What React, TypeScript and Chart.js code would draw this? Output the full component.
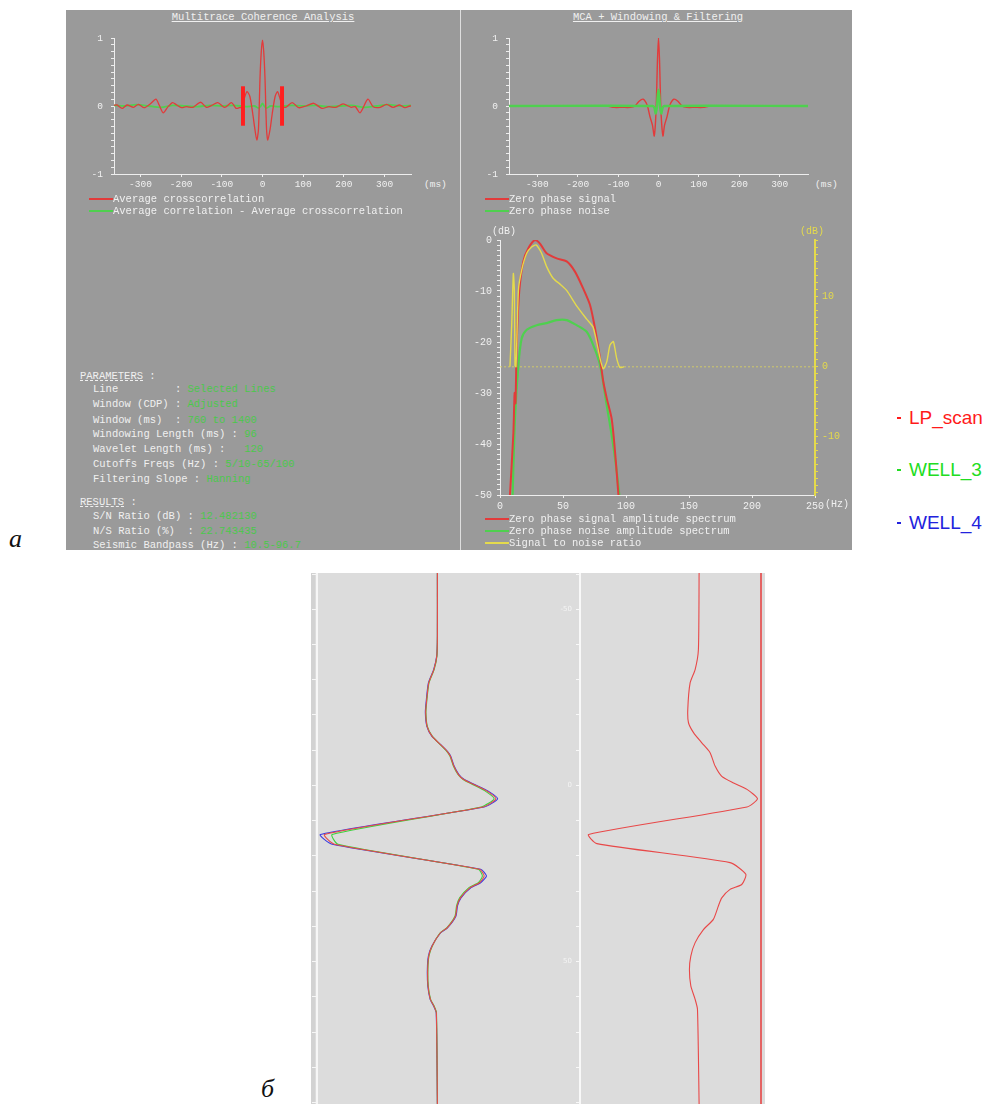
import React, { useEffect, useRef } from 'react';
import { Chart, registerables } from 'chart.js';

Chart.register(...registerables);

// ---------------- DATA ----------------
// Top-left: Multitrace Coherence Analysis (ms, amplitude)
const ccTimes = [
  -365, -358, -345, -333, -317, -305, -291, -276, -262, -254,
  -244, -232, -221, -211, -199, -187, -171, -152, -138, -126,
  -110, -93, -76, -65, -57, -50, -45, -38, -31, -24,
  -19, -14, -10, -6, -3, 0, 3, 6, 10, 13,
  19, 24, 31, 37, 43, 50, 57, 73, 89, 107,
  126, 146, 163, 180, 198, 218, 228, 240, 259, 272,
  289, 305, 321, 337, 350, 362, 365,
];
const ccValues = [
  0.01, 0.015, -0.035, 0.015, -0.02, 0.025, -0.025, 0.03, 0.1, 0.015,
  -0.1, -0.01, 0.05, 0.015, -0.025, -0.01, -0.02, 0.055, -0.02, 0.005,
  0.05, -0.02, 0.05, -0.035, -0.025, -0.02, 0.11, 0.21, 0.14, -0.11,
  -0.33, -0.5, -0.35, 0.43, 0.8, 0.97, 0.8, 0.43, -0.35, -0.5,
  -0.33, -0.11, 0.14, 0.21, 0.11, -0.01, -0.02, 0.05, -0.025, 0.0,
  0.04, -0.035, -0.01, -0.02, 0.03, -0.02, -0.01, -0.1, 0.1, -0.01,
  -0.02, 0.025, -0.02, 0.015, -0.025, 0.0, 0.0,
];
const acTimes = [
  -365, -340, -310, -280, -250, -220, -190, -160, -130, -100,
  -70, -40, -20, -10, -4, 0, 4, 10, 20, 40,
  70, 100, 130, 160, 190, 220, 250, 280, 310, 340, 365,
];
const acValues = [
  0.01, 0.0, 0.02, 0.0, -0.02, 0.01, 0.0, -0.01, 0.01, 0.0,
  0.01, -0.01, 0.0, -0.03, 0.0, 0.04, 0.0, -0.03, 0.0, -0.01,
  0.01, 0.0, 0.01, -0.01, 0.0, 0.01, -0.02, 0.0, 0.02, 0.0, 0.01,
];
const windowMarkTimes = [-48, 48];
const windowMarkSpan = [-0.29, 0.29];

// Top-right: MCA + Windowing & Filtering
const zpTimes = [
  -370, -128, -110, -90, -70, -58, -48, -38, -28, -21,
  -15, -10.5, -6, -2.5, 0, 2.5, 6, 11, 15, 21,
  28, 38, 48, 58, 70, 90, 110, 128, 370,
];
const zpSignal = [
  0, 0, -0.02, -0.02, -0.02, 0.0, 0.07, 0.1, 0.01, -0.16,
  -0.28, -0.44, -0.06, 0.68, 1.0, 0.68, -0.06, -0.44, -0.28, -0.16,
  0.01, 0.1, 0.07, 0.0, -0.02, -0.02, -0.02, 0, 0,
];
const znTimes = [-370, -14, -10, -7, -4, -2, 0, 2, 4, 7, 10, 14, 370];
const znValues = [0, 0, -0.03, -0.11, -0.02, 0.15, 0.24, 0.15, -0.02, -0.11, -0.03, 0, 0];

// Spectrum (Hz, dB)
const sigFreq = [
  7.9, 10.6, 11.6, 12.3, 13.3, 15.3, 18.5, 22.5, 27.8, 31.7,
  37, 45, 52.9, 59.5, 66, 71.4, 75.4, 79.4, 82, 84.7,
  88.6, 91.3, 94,
];
const sigDb = [
  -50, -38, -30, -32, -20, -10, -4.2, -1.6, 0, -0.7,
  -2.6, -3.6, -4.2, -6.2, -9.5, -12.7, -17.3, -23.2, -27.8, -31,
  -35, -41.5, -50,
];
const noiseFreq = [
  10, 11.9, 14.6, 17.2, 21.2, 29.1, 37, 45, 52.9, 60.8,
  68.8, 74, 79.4, 84.7, 88.6, 92, 94.7,
];
const noiseDb = [
  -50, -35, -24.5, -19.3, -17.6, -16.7, -16.3, -15.7, -15.7, -16.7,
  -18, -20.6, -24.5, -32.4, -38.2, -44.1, -50,
];
const snrFreq = [
  7.9, 9.3, 10.6, 11.4, 11.9, 12.7, 14.6, 17.2, 21.2, 25.1,
  28.6, 33, 37, 42.3, 47.6, 52.9, 60.8, 68.8, 74, 79.4,
  82, 84.7, 87.3, 90, 92.6, 95.2, 98.4,
];
const snrDb = [
  0, 6, 13.3, 10.9, 0.2, 0, 10.9, 13.8, 16.2, 17.1,
  17.4, 16.2, 14.3, 12.6, 11.8, 10.9, 8.7, 6.8, 5.6, 1.2,
  -0.3, 0.7, 3.1, 3.6, 1.2, -0.1, 0,
];
const snrZeroFreq = [0, 250];
const snrZeroDb = [0, 0];

// Bottom: well ties (depth sample, normalized amplitude)
const depthL = [
  -60.3, -42.4, -36.7, -32.9, -29.1, -23.5, -20.6, -16.8, -14.0, -11.6,
  -9.7, -8.3, -5.5, -3.1, -1.7, -0.3, 1.6, 3.8, 6.1, 13.9,
  16.7, 23.8, 25.7, 27.6, 29.0, 31.9, 34.2, 37.1, 40.4, 41.8,
  45.6, 48.4, 52.2, 56.9, 60.7, 62.6, 64.5, 90.4,
];
const lpScan = [
  0, 0, -0.005, -0.03, -0.074, -0.094, -0.1, -0.088, -0.046, 0.026,
  0.083, 0.111, 0.14, 0.18, 0.225, 0.31, 0.425, 0.5, 0.39, -0.965,
  -0.88, 0.36, 0.4, 0.36, 0.28, 0.197, 0.168, 0.154, 0.083, 0.026,
  -0.046, -0.074, -0.083, -0.08, -0.06, -0.03, -0.009, 0,
];
const well3 = [
  0, 0, -0.004, -0.028, -0.072, -0.092, -0.098, -0.086, -0.044, 0.024,
  0.08, 0.108, 0.137, 0.176, 0.22, 0.3, 0.41, 0.485, 0.375, -0.9,
  -0.85, 0.35, 0.385, 0.35, 0.27, 0.19, 0.164, 0.15, 0.08, 0.024,
  -0.044, -0.072, -0.081, -0.078, -0.058, -0.028, -0.008, 0,
];
const well4 = [
  0, 0, -0.006, -0.032, -0.077, -0.097, -0.103, -0.09, -0.048, 0.028,
  0.086, 0.114, 0.143, 0.184, 0.23, 0.318, 0.435, 0.515, 0.4, -1.0,
  -0.9, 0.37, 0.42, 0.37, 0.288, 0.202, 0.172, 0.158, 0.086, 0.028,
  -0.048, -0.077, -0.086, -0.082, -0.062, -0.032, -0.01, 0,
];
const depthR = [
  -60.3, -38.6, -32.9, -29.1, -21.6, -17.8, -15.0, -12.1, -9.3, -5.5,
  -2.6, -0.8, 1.1, 3.8, 6.1, 13.9, 16.5, 21.9, 25.2, 28.1,
  29.5, 31.9, 34.2, 38.0, 40.9, 44.6, 48.4, 52.2, 56.9, 60.7,
  63.5, 90.4,
];
const lpScanRight = [
  0, -0.006, -0.034, -0.077, -0.097, -0.091, -0.048, 0.023, 0.094, 0.137,
  0.194, 0.29, 0.41, 0.5, 0.41, -0.946, -0.875, 0.265, 0.4, 0.365,
  0.265, 0.194, 0.165, 0.122, 0.037, -0.034, -0.071, -0.083, -0.071, -0.034,
  -0.014, 0,
];
const depthLabels = [-50, 0, 50];

const timeTickLabels = [-300, -200, -100, 0, 100, 200, 300];
const corrTickLabels = [-1, 0, 1];
const freqTickLabels = [0, 50, 100, 150, 200, 250];
const dbTickLabels = [-50, -40, -30, -20, -10, 0];
const snrTickLabels = [-10, 0, 10];

const paramRows = [
  ['Line         : ', 'Selected Lines'],
  ['Window (CDP) : ', 'Adjusted'],
  ['Window (ms)  : ', '760 to 1400'],
  ['Windowing Length (ms) : ', '96'],
  ['Wavelet Length (ms) :   ', '120'],
  ['Cutoffs Freqs (Hz) : ', '5/10-65/100'],
  ['Filtering Slope : ', 'Hanning'],
];
const resultRows = [
  ['S/N Ratio (dB) : ', '12.482130'],
  ['N/S Ratio (%)  : ', '22.743435'],
  ['Seismic Bandpass (Hz) : ', '10.5-96.7'],
];
const wellNames = ['LP_scan', 'WELL_3', 'WELL_4'];

// ---------------- STYLE ----------------
const MONO = "'Liberation Mono', 'DejaVu Sans Mono', monospace";
const TXT = '#f0f0f0';
const PANEL = '#9a9a9a';
const RED = '#e23b3b';
const GREEN = '#4fd04f';
const YELLOW = '#e4da4c';
const VAL_GREEN = '#4cc84c';
const WELL_COLORS = ['#ff1a1a', '#22dd22', '#2222dd'];

const pts = (xs: number[], ys: number[]) => xs.map((x, i) => ({ x, y: ys[i] }));
const vpts = (depth: number[], amp: number[]) => depth.map((d, i) => ({ x: amp[i], y: d }));
const steps = (a: number, b: number, s: number) => {
  const out: number[] = [];
  for (let i = 0; a + i * s <= b + 1e-9; i++) out.push(Math.round((a + i * s) * 1e6) / 1e6);
  return out;
};
const fixTicks = (vals: number[]) => (scale: any) => {
  scale.ticks = vals.map((v) => ({ value: v }));
};
const onlyLabels = (labels: number[]) => (v: any) =>
  labels.some((l) => Math.abs(l - Number(v)) < 1e-6) ? String(Math.round(Number(v))) : '';

const baseOptions = () => ({
  responsive: false,
  maintainAspectRatio: false,
  animation: false as const,
  events: [] as any[],
  plugins: { legend: { display: false }, tooltip: { enabled: false } },
  elements: { point: { radius: 0 } },
});

function axis(o: {
  min: number; max: number; ticks: number[]; labels: number[]; color: string; labelColor: string;
  fitW?: number; fitH?: number; tickLen: number; size: number; padding: number; position?: string;
  reverse?: boolean; labelsOn?: boolean; family?: string; borderW?: number;
}) {
  return {
    type: 'linear' as const,
    min: o.min,
    max: o.max,
    reverse: !!o.reverse,
    position: o.position,
    afterBuildTicks: fixTicks(o.ticks),
    afterFit: (s: any) => {
      if (o.fitW !== undefined) s.width = o.fitW;
      if (o.fitH !== undefined) s.height = o.fitH;
      s.paddingTop = 0;
      s.paddingBottom = 0;
      s.paddingLeft = 0;
      s.paddingRight = 0;
    },
    border: { display: true, color: o.color, width: o.borderW ?? 1 },
    grid: { display: true, drawOnChartArea: false, drawTicks: true, tickLength: o.tickLen, color: o.color },
    ticks: {
      display: o.labelsOn !== false,
      autoSkip: false,
      maxRotation: 0,
      color: o.labelColor,
      padding: o.padding,
      font: { family: o.family ?? MONO, size: o.size },
      callback: onlyLabels(o.labels),
    },
  };
}

function ChartBox({ left, top, width, height, build }: { left: number; top: number; width: number; height: number; build: () => any }) {
  const ref = useRef<HTMLCanvasElement>(null);
  useEffect(() => {
    const chart = new Chart(ref.current as HTMLCanvasElement, build());
    return () => chart.destroy();
  }, []);
  return (
    <canvas
      ref={ref}
      width={width}
      height={height}
      style={{ position: 'absolute', left, top, width, height }}
    />
  );
}

const line = (data: any[], color: string, width = 1.2, extra: any = {}) => ({
  data,
  borderColor: color,
  borderWidth: width,
  pointRadius: 0,
  tension: 0.25,
  fill: false,
  ...extra,
});

// ---------------- CHART CONFIGS ----------------
// (Chart.js paints dataset 0 on top)
const buildTopLeft = () => ({
  type: 'line',
  data: {
    datasets: [
      ...windowMarkTimes.map((t) =>
        line(pts([t, t], windowMarkSpan), '#ff2020', 4, { tension: 0 })
      ),
      line(pts(ccTimes, ccValues), RED, 1.3),
      line(pts(acTimes, acValues), GREEN, 1.8),
    ],
  },
  options: {
    ...baseOptions(),
    layout: { padding: { top: 10, right: 5, left: 0, bottom: 0 } },
    scales: {
      x: axis({ min: -365, max: 365, ticks: timeTickLabels, labels: timeTickLabels, color: '#eeeeee', labelColor: TXT, fitH: 20, tickLen: 3, size: 9.5, padding: 2 }),
      y: axis({ min: -1, max: 1, ticks: steps(-1, 1, 0.1), labels: corrTickLabels, color: '#eeeeee', labelColor: TXT, fitW: 40, tickLen: 3, size: 9.5, padding: 8 }),
    },
  },
});

const buildTopRight = () => ({
  type: 'line',
  data: {
    datasets: [
      line(pts(znTimes, znValues), GREEN, 2.4),
      line(pts(zpTimes, zpSignal), RED, 1.4),
    ],
  },
  options: {
    ...baseOptions(),
    layout: { padding: { top: 10, right: 5, left: 0, bottom: 0 } },
    scales: {
      x: axis({ min: -370, max: 370, ticks: timeTickLabels, labels: timeTickLabels, color: '#eeeeee', labelColor: TXT, fitH: 20, tickLen: 3, size: 9.5, padding: 2 }),
      y: axis({ min: -1, max: 1, ticks: steps(-1, 1, 0.1), labels: corrTickLabels, color: '#eeeeee', labelColor: TXT, fitW: 40, tickLen: 3, size: 9.5, padding: 8 }),
    },
  },
});

const buildSpectrum = () => ({
  type: 'line',
  data: {
    datasets: [
      line(pts(snrFreq, snrDb), YELLOW, 1.4, { yAxisID: 'y2', tension: 0.2 }),
      line(pts(sigFreq, sigDb), RED, 2, { yAxisID: 'y' }),
      line(pts(noiseFreq, noiseDb), GREEN, 2.2, { yAxisID: 'y' }),
      line(pts(snrZeroFreq, snrZeroDb), 'rgba(225,215,90,0.75)', 1, { yAxisID: 'y2', borderDash: [2, 2], tension: 0 }),
    ],
  },
  options: {
    ...baseOptions(),
    layout: { padding: { top: 8, right: 0, left: 0, bottom: 0 } },
    scales: {
      x: axis({ min: 0, max: 250, ticks: freqTickLabels, labels: freqTickLabels, color: '#eeeeee', labelColor: TXT, fitH: 20, tickLen: 3, size: 10, padding: 2 }),
      y: axis({ min: -50, max: 0, ticks: steps(-50, 0, 1), labels: dbTickLabels, color: '#eeeeee', labelColor: TXT, fitW: 40, tickLen: 3, size: 10, padding: 5, position: 'left' }),
      y2: axis({ min: -18.3, max: 18.1, ticks: steps(-18, 18, 1), labels: snrTickLabels, color: YELLOW, labelColor: YELLOW, fitW: 37, tickLen: 3, size: 10, padding: 4, position: 'right', borderW: 2 }),
    },
  },
});

const buildWellLeft = () => ({
  type: 'line',
  data: {
    datasets: [
      line(vpts(depthL, lpScan), '#e84848', 1.1, { tension: 0.2 }),
      line(vpts(depthL, well3), '#3cd23c', 1.1, { tension: 0.2 }),
      line(vpts(depthL, well4), '#3a3ae0', 1.1, { tension: 0.2 }),
    ],
  },
  options: {
    ...baseOptions(),
    indexAxis: 'y',
    layout: { padding: 0 },
    scales: {
      x: { type: 'linear', display: false, min: -1.03, max: 1.22 },
      y: axis({ min: -60.3, max: 90.4, reverse: true, ticks: steps(-60, 90, 10), labels: [], color: '#f6f6f6', labelColor: '#f6f6f6', fitW: 5, tickLen: 5, size: 7, padding: 2, position: 'left', labelsOn: false, borderW: 2 }),
    },
  },
});

const rightEdgeLine = {
  id: 'rightEdgeLine',
  afterDraw(chart: any) {
    const { ctx, chartArea } = chart;
    ctx.save();
    ctx.strokeStyle = '#e46464';
    ctx.lineWidth = 2;
    ctx.beginPath();
    ctx.moveTo(chartArea.right, 0);
    ctx.lineTo(chartArea.right, chart.height);
    ctx.stroke();
    ctx.restore();
  },
};

const buildWellRight = () => ({
  type: 'line',
  data: {
    datasets: [line(vpts(depthR, lpScanRight), '#e84848', 1.1, { tension: 0.2 })],
  },
  options: {
    ...baseOptions(),
    indexAxis: 'y',
    layout: { padding: { top: 0, bottom: 0, left: 0, right: 4 } },
    scales: {
      x: { type: 'linear', display: false, min: -1.02, max: 0.53 },
      y: axis({ min: -60.3, max: 90.4, reverse: true, ticks: steps(-60, 90, 10), labels: depthLabels, color: '#f8f8f8', labelColor: '#f4f4f4', fitW: 35, tickLen: 4, size: 7, padding: 4, position: 'left', family: "'DejaVu Sans', sans-serif", borderW: 2 }),
    },
  },
  plugins: [rightEdgeLine],
});

// ---------------- TEXT HELPERS ----------------
function Txt({ x, y, children, color = TXT, size = 10.5, center = false, style = {} }: any) {
  return (
    <div
      style={{
        position: 'absolute',
        left: x,
        top: y - 7,
        height: 14,
        lineHeight: '14px',
        fontFamily: MONO,
        fontSize: size,
        color,
        whiteSpace: 'pre',
        transform: center ? 'translateX(-50%)' : undefined,
        ...style,
      }}
    >
      {children}
    </div>
  );
}

function LegendRow({ x, y, color, label, width = 1.6 }: any) {
  return (
    <>
      <div style={{ position: 'absolute', left: x, top: y - width / 2, width: 24, height: width, background: color }} />
      <Txt x={x + 24} y={y}>{label}</Txt>
    </>
  );
}

export default function App() {
  const paramY = [389, 404, 420, 434, 449, 464, 479];
  const resultY = [516, 531, 545];
  const wellY = [418, 470, 523];
  return (
    <div style={{ position: 'absolute', left: 0, top: 0, width: 997, height: 1104, overflow: 'hidden', background: '#ffffff' }}>
      {/* top grey panel */}
      <div style={{ position: 'absolute', left: 66, top: 10, width: 786, height: 540, background: PANEL, overflow: 'hidden' }}>
        <Txt x={14} y={366} style={{ textDecoration: 'underline dashed' }}>PARAMETERS</Txt>
        <Txt x={14 + 6.3 * 10} y={366}> :</Txt>
        {paramRows.map((r, i) => (
          <Txt key={'p' + i} x={27} y={paramY[i] - 10}>
            {r[0]}<span style={{ color: VAL_GREEN }}>{r[1]}</span>
          </Txt>
        ))}
        <Txt x={14} y={492} style={{ textDecoration: 'underline dashed' }}>RESULTS</Txt>
        <Txt x={14 + 6.3 * 7} y={492}> :</Txt>
        {resultRows.map((r, i) => (
          <Txt key={'r' + i} x={27} y={resultY[i] - 10}>
            {r[0]}<span style={{ color: VAL_GREEN }}>{r[1]}</span>
          </Txt>
        ))}
      </div>
      <div style={{ position: 'absolute', left: 460, top: 10, width: 1, height: 540, background: '#dedede' }} />

      <Txt x={263} y={17} center style={{ textDecoration: 'underline' }}>Multitrace Coherence Analysis</Txt>
      <Txt x={658} y={17} center style={{ textDecoration: 'underline' }}>MCA + Windowing &amp; Filtering</Txt>

      <ChartBox left={74} top={28} width={342} height={166} build={buildTopLeft} />
      <ChartBox left={469} top={28} width={344} height={166} build={buildTopRight} />
      <ChartBox left={460} top={232} width={392} height={283} build={buildSpectrum} />

      <Txt x={424} y={185} size={9.5}>(ms)</Txt>
      <Txt x={815} y={185} size={9.5}>(ms)</Txt>
      <Txt x={492} y={232} size={10}>(dB)</Txt>
      <Txt x={800} y={232} size={10} color={YELLOW}>(dB)</Txt>
      <Txt x={825} y={505} size={10}>(Hz)</Txt>

      <LegendRow x={89} y={199} color={RED} label="Average crosscorrelation" />
      <LegendRow x={89} y={211} color={GREEN} label="Average correlation - Average crosscorrelation" />
      <LegendRow x={485} y={199} color={RED} label="Zero phase signal" />
      <LegendRow x={485} y={211} color={GREEN} label="Zero phase noise" />
      <LegendRow x={485} y={519} color={RED} label="Zero phase signal amplitude spectrum" width={2} />
      <LegendRow x={485} y={531} color={GREEN} label="Zero phase noise amplitude spectrum" width={2} />
      <LegendRow x={485} y={543} color={YELLOW} label="Signal to noise ratio" width={2} />

      {/* well legend */}
      {wellNames.map((n, i) => (
        <React.Fragment key={n}>
          <div style={{ position: 'absolute', left: 897, top: wellY[i] - 1, width: 4, height: 2, background: WELL_COLORS[i] }} />
          <div
            style={{
              position: 'absolute', left: 909, top: wellY[i] - 12, height: 24, lineHeight: '24px',
              fontFamily: "'Liberation Sans', Arial, sans-serif", fontSize: 19, color: WELL_COLORS[i], whiteSpace: 'pre',
            }}
          >
            {n}
          </div>
        </React.Fragment>
      ))}

      {/* panel labels */}
      <div style={{ position: 'absolute', left: 9, top: 524, fontFamily: "'Liberation Serif', serif", fontStyle: 'italic', fontSize: 26, lineHeight: '30px', color: '#111' }}>а</div>
      <div style={{ position: 'absolute', left: 261, top: 1074, fontFamily: "'Liberation Serif', serif", fontStyle: 'italic', fontSize: 26, lineHeight: '30px', color: '#111' }}>б</div>

      {/* bottom panel */}
      <div style={{ position: 'absolute', left: 311, top: 573, width: 454, height: 531, background: '#dcdcdc' }} />
      <div style={{ position: 'absolute', left: 311, top: 573, width: 4, height: 531, background: '#d2d2d2' }} />
      <ChartBox left={312} top={573} width={268} height={531} build={buildWellLeft} />
      <ChartBox left={545} top={573} width={220} height={531} build={buildWellRight} />
    </div>
  );
}
